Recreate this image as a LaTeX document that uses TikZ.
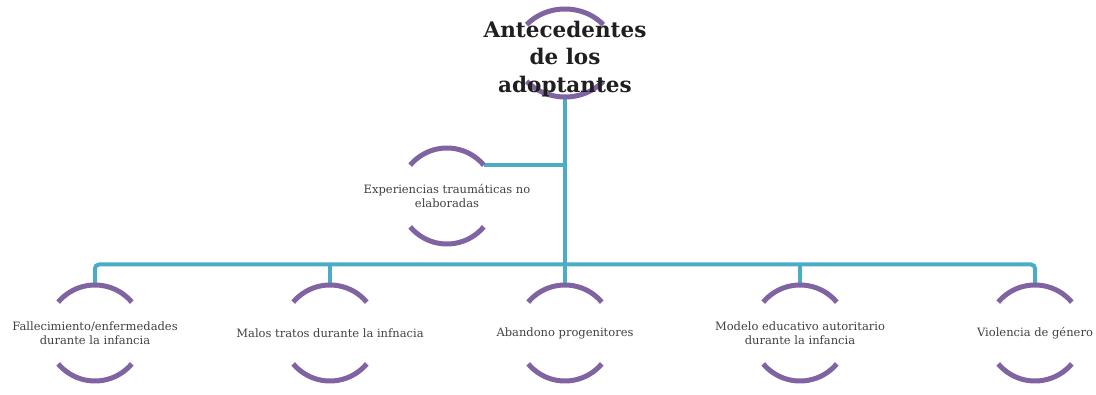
\documentclass[tikz,border=0pt]{standalone}
\usepackage{fontspec}
\setmainfont{DejaVu Serif}
\usetikzlibrary{backgrounds}

\definecolor{ringpurple}{HTML}{8064A2}
\definecolor{linkblue}{HTML}{4BACC6}
\definecolor{textgray}{HTML}{404040}

\begin{document}
\begin{tikzpicture}[x=1pt, y=1pt,
    ring/.style={minimum height=96pt, inner sep=0pt, outer sep=0pt, align=center, font=\fontsize{11.5}{14.5}\selectfont, text=textgray},
    title/.style={minimum height=80pt, inner sep=0pt, outer sep=0pt, align=center, font=\fontsize{21.5}{27.5}\selectfont\bfseries, text=black!88},
    link/.style={draw=linkblue, line width=4pt},
    arcline/.style={draw=ringpurple, line width=5pt}
  ]
    \useasboundingbox (0,0) rectangle (1096,394);

    \node[title] (top) at (565,335) {Antecedentes\\de los\\adoptantes};
    \node[ring]  (exp) at (447,198) {Experiencias traumáticas no\\elaboradas};

    \node[ring] (b1) at (95,61)   {Fallecimiento/enfermedades\\durante la infancia};
    \node[ring] (b2) at (330,61)  {Malos tratos durante la infnacia};
    \node[ring] (b3) at (565,61)  {Abandono progenitores};
    \node[ring] (b4) at (800,61)  {Modelo educativo autoritario\\durante la infancia};
    \node[ring] (b5) at (1035,61) {Violencia de género};

    \coordinate (top-c) at ([yshift=6pt]top.center);
    \coordinate (bus) at (565,129.5);
    \coordinate (exp-end) at ([shift={(40:48)}]exp.center);

    \begin{scope}[on background layer]
      \draw[link] (top.south) -- (bus);
      \draw[link] (exp-end) -- (exp-end -| top.south);
      \draw[link, rounded corners=4pt] (b1.north) |- (bus) -| (b5.north);
      \foreach \n in {b2,b3,b4}
        \draw[link] (\n.north) -- (\n.north |- bus);

      \draw[arcline] ([shift={({50*cos(140)},{44*sin(140)})}]top-c) arc[start angle=140, end angle=40, x radius=50, y radius=44];
      \draw[arcline] ([shift={({50*cos(220)},{44*sin(220)})}]top-c) arc[start angle=220, end angle=320, x radius=50, y radius=44];
      \foreach \n in {exp,b1,b2,b3,b4,b5} {
        \draw[arcline] ([shift={(140:48)}]\n.center) arc[start angle=140, end angle=40, radius=48];
        \draw[arcline] ([shift={(220:48)}]\n.center) arc[start angle=220, end angle=320, radius=48];
      }
    \end{scope}
  \end{tikzpicture}
\end{document}
